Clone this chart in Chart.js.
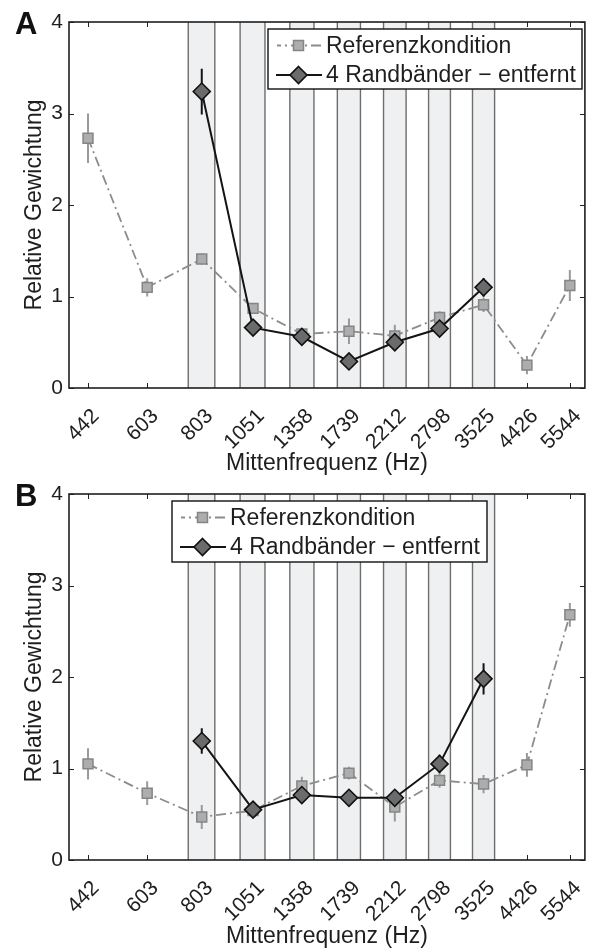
<!DOCTYPE html>
<html><head><meta charset="utf-8">
<script src="https://cdn.jsdelivr.net/npm/chart.js@4"></script>
<style>
html,body{margin:0;padding:0;background:#fff}
.p{position:relative;width:595px;height:475px}
canvas{display:block}
</style></head>
<body>
<div class="p"><canvas id="cA" width="595" height="475"></canvas></div>
<div class="p"><canvas id="cB" width="595" height="475"></canvas></div>
<script>
// ---------- data ----------
const frequencies = [442, 603, 803, 1051, 1358, 1739, 2212, 2798, 3525, 4426, 5544];
const tickLabels = ['442', '603', '803', '1051', '1358', '1739', '2212', '2798', '3525', '4426', '5544'];
const yTickValues = [0, 1, 2, 3, 4];
const seriesNames = ['Referenzkondition', '4 Randbänder \u2212 entfernt'];
const xTitle = 'Mittenfrequenz (Hz)';
const yTitle = 'Relative Gewichtung';
// shaded frequency bands (Hz)
const bandLow  = [748, 982, 1275, 1636, 2085, 2641, 3326];
const bandHigh = [860, 1119, 1447, 1847, 2347, 2962, 3735];

// Panel A
const refA    = [2.73, 1.10, 1.41, 0.87, 0.59, 0.62, 0.57, 0.77, 0.91, 0.25, 1.12];
const refAErr = [0.27, 0.10, 0.06, 0.06, 0.06, 0.14, 0.12, 0.07, 0.08, 0.10, 0.17];
const remA    = [null, null, 3.24, 0.66, 0.56, 0.29, 0.50, 0.65, 1.10, null, null];
const remAErr = [null, null, 0.25, 0.07, 0.05, 0.07, 0.08, 0.08, 0.10, null, null];
// Panel B
const refB    = [1.05, 0.73, 0.47, 0.54, 0.81, 0.95, 0.58, 0.87, 0.83, 1.04, 2.68];
const refBErr = [0.17, 0.13, 0.13, 0.07, 0.10, 0.07, 0.16, 0.08, 0.10, 0.13, 0.13];
const remB    = [null, null, 1.30, 0.55, 0.71, 0.68, 0.68, 1.05, 1.98, null, null];
const remBErr = [null, null, 0.14, 0.08, 0.06, 0.05, 0.06, 0.10, 0.17, null, null];

// ---------- styling ----------
const FONT = "'Liberation Sans', Arial, Helvetica, sans-serif";
const TXT = '#1e1e1e';
const REF_LINE = '#8c8c8c', REF_FILL = '#adadad', REF_EDGE = '#858585', REF_ERR = '#9a9a9a';
const REM_LINE = '#141414', REM_FILL = '#6b6b6b', REM_EDGE = '#111111';
const DASH = [10, 4, 2, 4];

function toPts(vals) {
  return frequencies.map((f, i) => ({x: f, y: vals[i]}));
}

function drawSquare(ctx, x, y, half) {
  ctx.save();
  ctx.setLineDash([]);
  ctx.fillStyle = REF_FILL; ctx.strokeStyle = REF_EDGE; ctx.lineWidth = 1.5;
  ctx.beginPath(); ctx.rect(x - half, y - half, 2 * half, 2 * half); ctx.fill(); ctx.stroke();
  ctx.restore();
}
function drawDiamond(ctx, x, y, r) {
  ctx.save();
  ctx.setLineDash([]);
  ctx.fillStyle = REM_FILL; ctx.strokeStyle = REM_EDGE; ctx.lineWidth = 1.6;
  ctx.beginPath();
  ctx.moveTo(x, y - r); ctx.lineTo(x + r, y); ctx.lineTo(x, y + r); ctx.lineTo(x - r, y); ctx.closePath();
  ctx.fill(); ctx.stroke();
  ctx.restore();
}

const panelPlugin = {
  id: 'panelPlugin',
  beforeDatasetsDraw(chart, args, opts) {
    const {ctx, chartArea: a, scales: {x, y}} = chart;
    ctx.save();
    // inward tick marks
    ctx.strokeStyle = '#222'; ctx.lineWidth = 1;
    ctx.beginPath();
    frequencies.forEach(f => {
      const px = Math.round(x.getPixelForValue(f)) + 0.5;
      ctx.moveTo(px, a.bottom); ctx.lineTo(px, a.bottom - 5);
      ctx.moveTo(px, a.top); ctx.lineTo(px, a.top + 5);
    });
    yTickValues.forEach(v => {
      const py = Math.round(y.getPixelForValue(v)) + 0.5;
      ctx.moveTo(a.left, py); ctx.lineTo(a.left + 5, py);
      ctx.moveTo(a.right, py); ctx.lineTo(a.right - 5, py);
    });
    ctx.stroke();
    // shaded bands
    bandLow.forEach((lo, i) => {
      const x0 = x.getPixelForValue(lo), x1 = x.getPixelForValue(bandHigh[i]);
      ctx.fillStyle = '#eff0f2';
      ctx.fillRect(x0, a.top, x1 - x0, a.bottom - a.top);
      ctx.strokeStyle = '#6e6e6e'; ctx.lineWidth = 1.4;
      ctx.beginPath();
      ctx.moveTo(x0, a.top); ctx.lineTo(x0, a.bottom);
      ctx.moveTo(x1, a.top); ctx.lineTo(x1, a.bottom);
      ctx.stroke();
    });
    // error bars
    chart.data.datasets.forEach(ds => {
      ctx.strokeStyle = ds.errColor; ctx.lineWidth = 2;
      ctx.beginPath();
      ds.data.forEach((p, i) => {
        const e = ds.errors[i];
        if (p.y == null || e == null) return;
        const px = x.getPixelForValue(p.x);
        ctx.moveTo(px, y.getPixelForValue(p.y - e));
        ctx.lineTo(px, y.getPixelForValue(p.y + e));
      });
      ctx.stroke();
    });
    ctx.restore();
  },
  afterDatasetsDraw(chart) {
    const {ctx, chartArea: a} = chart;
    ctx.save();
    ctx.strokeStyle = '#1e1e1e'; ctx.lineWidth = 1.6;
    ctx.strokeRect(a.left, a.top, a.right - a.left, a.bottom - a.top);
    ctx.restore();
  },
  afterDraw(chart, args, opts) {
    const ctx = chart.ctx;
    ctx.save();
    // panel letter
    ctx.fillStyle = '#111';
    ctx.font = 'bold 31px ' + FONT;
    ctx.textBaseline = 'alphabetic'; ctx.textAlign = 'left';
    ctx.fillText(opts.letter, 15, opts.letterY);
    // legend
    const L = opts.legend;
    ctx.fillStyle = '#fff';
    ctx.fillRect(L.x, L.y, L.w, L.h);
    ctx.strokeStyle = '#111'; ctx.lineWidth = 1.4;
    ctx.strokeRect(L.x, L.y, L.w, L.h);
    const mx = L.x + 30.5, r1 = L.y + 16.5, r2 = L.y + 46;
    // row 1
    ctx.strokeStyle = REF_LINE; ctx.lineWidth = 1.8; ctx.setLineDash(DASH);
    ctx.lineDashOffset = 6;
    ctx.beginPath(); ctx.moveTo(L.x + 9, r1); ctx.lineTo(L.x + 53, r1); ctx.stroke();
    ctx.setLineDash([]);
    drawSquare(ctx, mx, r1, 5);
    // row 2
    ctx.strokeStyle = REM_LINE; ctx.lineWidth = 2;
    ctx.beginPath(); ctx.moveTo(L.x + 8, r2); ctx.lineTo(L.x + 54, r2); ctx.stroke();
    drawDiamond(ctx, mx, r2, 8.5);
    ctx.fillStyle = TXT;
    ctx.font = '23px ' + FONT;
    ctx.textBaseline = 'middle';
    ctx.fillText(seriesNames[0], L.x + 58, r1 + 1);
    ctx.fillText(seriesNames[1], L.x + 58, r2 + 1);
    ctx.restore();
  }
};

function makePanel(id, ref, refErr, rem, remErr, cfg) {
  return new Chart(document.getElementById(id), {
    type: 'line',
    data: {
      datasets: [
        {
          label: seriesNames[0], data: toPts(ref), errors: refErr, errColor: REF_ERR,
          borderColor: REF_LINE, borderWidth: 1.8, borderDash: DASH,
          pointStyle: 'rect', pointRadius: 7, pointHoverRadius: 7,
          pointBackgroundColor: REF_FILL, pointBorderColor: REF_EDGE, pointBorderWidth: 1.5,
          tension: 0, order: 2, fill: false
        },
        {
          label: seriesNames[1], data: toPts(rem), errors: remErr, errColor: '#141414',
          borderColor: REM_LINE, borderWidth: 2,
          pointStyle: 'rectRot', pointRadius: 8.5, pointHoverRadius: 8.5,
          pointBackgroundColor: REM_FILL, pointBorderColor: REM_EDGE, pointBorderWidth: 1.6,
          tension: 0, order: 1, fill: false, spanGaps: false
        }
      ]
    },
    options: {
      responsive: false, animation: false, devicePixelRatio: 1,
      layout: {padding: {left: 0, right: 6, top: cfg.top, bottom: 0}},
      plugins: {
        legend: {display: false}, tooltip: {enabled: false},
        panelPlugin: {letter: cfg.letter, letterY: cfg.letterY, legend: cfg.legend}
      },
      scales: {
        x: {
          type: 'logarithmic', position: 'bottom', min: 400, max: 6000, bounds: 'data',
          afterBuildTicks: s => { s.ticks = frequencies.map(v => ({value: v})); },
          afterFit: s => { s.height = cfg.xh; s.paddingLeft = 0; s.paddingRight = 0; },
          grid: {display: false, drawTicks: false},
          border: {display: false},
          ticks: {
            autoSkip: false, minRotation: 45, maxRotation: 45, padding: 16, labelOffset: 8,
            color: TXT, font: {family: FONT, size: 21},
            callback: (v, i) => tickLabels[i]
          },
          title: {display: true, text: xTitle, color: TXT, font: {family: FONT, size: 23, lineHeight: 1},
                  padding: {top: 0, bottom: cfg.xtp}}
        },
        y: {
          type: 'linear', min: 0, max: 4,
          afterBuildTicks: s => { s.ticks = yTickValues.map(v => ({value: v})); },
          afterFit: s => { s.width = 69; },
          grid: {display: false, drawTicks: false},
          border: {display: false},
          ticks: {padding: 6, color: TXT, font: {family: FONT, size: 21}, callback: v => String(v)},
          title: {display: true, text: yTitle, color: TXT, font: {family: FONT, size: 23},
                  padding: {top: 21, bottom: 0}}
        }
      }
    },
    plugins: [panelPlugin]
  });
}

makePanel('cA', refA, refAErr, remA, remAErr, {
  letter: 'A', letterY: 34, top: 22, xh: 87, xtp: 0,
  legend: {x: 268, y: 29, w: 314, h: 60}
});
makePanel('cB', refB, refBErr, remB, remBErr, {
  letter: 'B', letterY: 31, top: 19, xh: 90, xtp: 2,
  legend: {x: 172, y: 26, w: 315, h: 61}
});
</script>
</body></html>
